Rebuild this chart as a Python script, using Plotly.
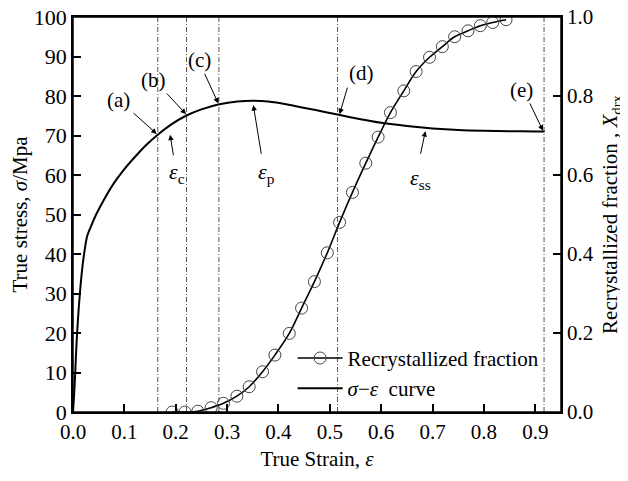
import plotly.graph_objects as go

# ---- data ----
stress_strain = [0.0, 0.002, 0.004, 0.006, 0.008, 0.011, 0.015, 0.02, 0.0275, 0.035, 0.045, 0.06, 0.08, 0.10,
                 0.12, 0.14, 0.165, 0.19, 0.22, 0.25, 0.285, 0.32, 0.35, 0.38, 0.42, 0.47, 0.515, 0.56,
                 0.60, 0.65, 0.70, 0.75, 0.80, 0.85, 0.90, 0.918]
stress_vals = [0.0, 4.0, 9.0, 15.0, 20.0, 26.0, 32.5, 38.5, 44.5, 47.0, 50.0, 53.7, 58.0, 61.5,
               64.5, 67.3, 70.2, 72.7, 75.0, 76.6, 77.9, 78.6, 78.8, 78.6, 77.8, 76.5, 75.3, 74.1,
               73.2, 72.4, 71.8, 71.4, 71.2, 71.1, 71.0, 71.0]

rx_strain = [0.193, 0.218, 0.243, 0.269, 0.293, 0.319, 0.343, 0.369, 0.393, 0.421, 0.445, 0.470,
             0.495, 0.519, 0.544, 0.570, 0.594, 0.618, 0.644, 0.668, 0.694, 0.719, 0.743, 0.769,
             0.793, 0.817, 0.843]
rx_frac = [0.0, 0.0, 0.002, 0.011, 0.022, 0.040, 0.064, 0.102, 0.144, 0.199, 0.263, 0.330,
           0.403, 0.480, 0.556, 0.630, 0.696, 0.758, 0.813, 0.862, 0.898, 0.925, 0.950, 0.965,
           0.978, 0.986, 0.993]

vline_strains = [0.165, 0.221, 0.284, 0.515, 0.917]

# labelled arrows: (label, text_x, text_y, tail_x, tail_y, head_x, head_y)
point_labels = ["(a)", "(b)", "(c)", "(d)", "(e)"]
point_text_x = [0.088, 0.156, 0.246, 0.561, 0.874]
point_text_y = [79.0, 84.0, 89.0, 85.7, 81.5]
point_tail_x = [0.115, 0.180, 0.255, 0.535, 0.888]
point_tail_y = [76.0, 81.0, 86.0, 82.5, 78.5]
point_head_x = [0.163, 0.220, 0.283, 0.519, 0.915]
point_head_y = [70.4, 75.4, 78.1, 75.4, 71.2]

strain_labels = ["<i>ε</i><sub>c</sub>", "<i>ε</i><sub>p</sub>", "<i>ε</i><sub>ss</sub>"]
strain_text_x = [0.203, 0.377, 0.676]
strain_text_y = [60.5, 60.5, 59.0]
strain_tail_x = [0.196, 0.367, 0.676]
strain_tail_y = [64.6, 65.0, 65.0]
strain_head_x = [0.189, 0.351, 0.686]
strain_head_y = [70.2, 77.7, 71.1]

FONT = "Liberation Serif"
DASHDOT = "5px,2px,1px,2px"

fig = go.Figure()

fig.add_trace(go.Scatter(
    x=rx_strain, y=rx_frac, yaxis="y2", mode="lines+markers",
    name="Recrystallized fraction", line=dict(color="black", width=1.6, shape="spline"),
    marker=dict(symbol="circle-open", size=12, color="#444", line=dict(width=1, color="#444")),
))
fig.add_trace(go.Scatter(
    x=stress_strain, y=stress_vals, mode="lines", name="<i>σ</i>−<i>ε</i>  curve",
    line=dict(color="black", width=2, shape="spline", smoothing=0.6),
))

for xv in vline_strains:
    fig.add_shape(type="line", xref="x", yref="paper", x0=xv, x1=xv, y0=0, y1=1,
                  line=dict(color="#555", width=1, dash=DASHDOT), layer="below")
# plot frame
fig.add_shape(type="rect", xref="paper", yref="paper", x0=0, x1=1, y0=0, y1=1,
              line=dict(color="black", width=1.5), layer="above")

annots = []
for lab, tx, ty, ax, ay, hx, hy in zip(point_labels, point_text_x, point_text_y,
                                       point_tail_x, point_tail_y, point_head_x, point_head_y):
    annots.append(dict(x=tx, y=ty, xref="x", yref="y", text=lab, showarrow=False,
                       font=dict(size=21, family=FONT, color="black")))
    annots.append(dict(x=hx, y=hy, ax=ax, ay=ay, xref="x", yref="y", axref="x", ayref="y",
                       text="", showarrow=True, arrowhead=2, arrowsize=1.1, arrowwidth=1,
                       arrowcolor="black"))
for lab, tx, ty, ax, ay, hx, hy in zip(strain_labels, strain_text_x, strain_text_y,
                                       strain_tail_x, strain_tail_y, strain_head_x, strain_head_y):
    annots.append(dict(x=tx, y=ty, xref="x", yref="y", text=lab, showarrow=False,
                       font=dict(size=22, family=FONT, color="black")))
    annots.append(dict(x=hx, y=hy, ax=ax, ay=ay, xref="x", yref="y", axref="x", ayref="y",
                       text="", showarrow=True, arrowhead=2, arrowsize=1.1, arrowwidth=1,
                       arrowcolor="black"))

axis_common = dict(showline=True, linecolor="black", linewidth=1.5, ticks="inside",
                   ticklen=8, tickwidth=1.5, tickcolor="black", showgrid=False, zeroline=False,
                   automargin=False, ticklabeloverflow="allow",
                   tickfont=dict(size=21, family=FONT, color="black"))

# the page body adds an 8px offset, so the figure is sized to the visible area
fig.update_layout(
    width=620, height=473,
    margin=dict(l=65, r=67, t=9, b=69, autoexpand=False),
    paper_bgcolor="white", plot_bgcolor="white",
    font=dict(family=FONT, size=21, color="black"),
    xaxis=dict(range=[0, 0.95], dtick=0.1, tick0=0, tickformat=".1f", mirror=True,
               title=dict(text="True Strain, <i>ε</i>", standoff=8,
                          font=dict(size=21, family=FONT)), **axis_common),
    yaxis=dict(range=[0, 100], dtick=10, title=dict(text="True stress, <i>σ</i>/Mpa", standoff=4,
               font=dict(size=21, family=FONT)), **{**axis_common, "tickfont": dict(size=22, family=FONT, color="black")}),
    yaxis2=dict(range=[0, 1.0], dtick=0.2, tickformat=".1f", overlaying="y", side="right",
                title=dict(text="Recrystallized fraction , <i>X</i><sub>drx</sub>", standoff=10,
                           font=dict(size=21, family=FONT)), **axis_common),
    legend=dict(x=0.45, y=0.008, xanchor="left", yanchor="bottom", bgcolor="rgba(0,0,0,0)",
                font=dict(size=21, family=FONT, color="black"), itemwidth=45, tracegroupgap=0),
    showlegend=True,
    annotations=annots,
)

fig.write_html("out.html")
